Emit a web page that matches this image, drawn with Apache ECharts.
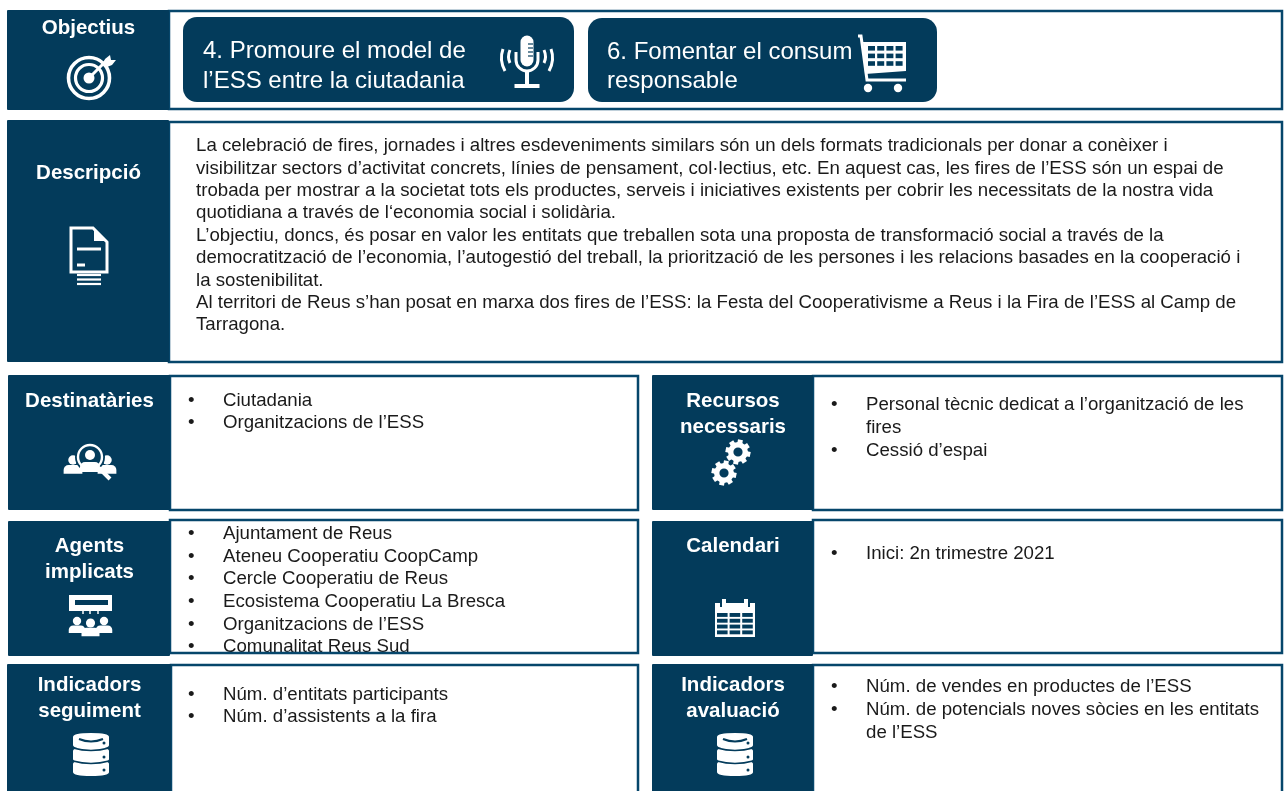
<!DOCTYPE html>
<html>
<head>
<meta charset="utf-8">
<title>Fitxa</title>
<style>
  html, body { margin: 0; padding: 0; background: #fff; }
  #main { width: 1285px; height: 791px; }
</style>
<script src="https://cdn.jsdelivr.net/npm/echarts@6/dist/echarts.min.js"></script>
</head>
<body>
<div id="main"></div>
<script>
// textos de la fitxa
const objectiu4 = ['4. Promoure el model de', 'l’ESS entre la ciutadania'];
const objectiu6 = ['6. Fomentar el consum', 'responsable'];
const descripcio = [
  'La celebració de fires, jornades i altres esdeveniments similars són un dels formats tradicionals per donar a conèixer i',
  'visibilitzar sectors d’activitat concrets, línies de pensament, col·lectius, etc. En aquest cas, les fires de l’ESS són un espai de',
  'trobada per mostrar a la societat tots els productes, serveis i iniciatives existents per cobrir les necessitats de la nostra vida',
  'quotidiana a través de l‘economia social i solidària.',
  'L’objectiu, doncs, és posar en valor les entitats que treballen sota una proposta de transformació social a través de la',
  'democratització de l’economia, l’autogestió del treball, la priorització de les persones i les relacions basades en la cooperació i',
  'la sostenibilitat.',
  'Al territori de Reus s’han posat en marxa dos fires de l’ESS: la Festa del Cooperativisme a Reus i la Fira de l’ESS al Camp de',
  'Tarragona.'
];
const destinataries = ['Ciutadania', 'Organitzacions de l’ESS'];
const recursos = [['Personal tècnic dedicat a l’organització de les', 'fires'], ['Cessió d’espai']];
const agents = ['Ajuntament de Reus', 'Ateneu Cooperatiu CoopCamp', 'Cercle Cooperatiu de Reus', 'Ecosistema Cooperatiu La Bresca', 'Organitzacions de l’ESS', 'Comunalitat Reus Sud'];
const calendari = ['Inici: 2n trimestre 2021'];
const seguiment = ['Núm. d’entitats participants', 'Núm. d’assistents a la fira'];
const avaluacio = [['Núm. de vendes en productes de l’ESS'], ['Núm. de potencials noves sòcies en les entitats', 'de l’ESS']];

const NAVY = '#033b5b';
const FONT = '"Liberation Sans", Arial, sans-serif';
const BODY = 18.66;
const INK = '#1a1a1a';
const els = [];

function txt(x, y, text, size, color, weight, align, z2) {
  els.push({
    type: 'text', z2: z2 || 5,
    style: {
      x: x, y: y, text: text, fill: color || INK,
      font: (weight || 'normal') + ' ' + size + 'px ' + FONT,
      textAlign: align || 'left', textVerticalAlign: 'middle'
    }
  });
}
function rect(x, y, w, h, fill, r, z2) {
  els.push({ type: 'rect', z2: z2 || 2, shape: { x: x, y: y, width: w, height: h, r: r || 0 }, style: { fill: fill } });
}
function frame(x, y, w, h) {
  els.push({ type: 'rect', z2: 6, shape: { x: x, y: y, width: w, height: h }, style: { fill: 'none', stroke: '#06466b', lineWidth: 2.5 } });
}
function circle(cx, cy, r, fill, z2) {
  els.push({ type: 'circle', z2: z2 || 7, shape: { cx: cx, cy: cy, r: r }, style: { fill: fill || '#fff' } });
}
function ring(cx, cy, r, w, z2) {
  els.push({ type: 'circle', z2: z2 || 7, shape: { cx: cx, cy: cy, r: r }, style: { fill: 'none', stroke: '#fff', lineWidth: w } });
}
function line(x1, y1, x2, y2, w, color, z2) {
  els.push({ type: 'line', z2: z2 || 7, shape: { x1: x1, y1: y1, x2: x2, y2: y2 }, style: { stroke: color || '#fff', lineWidth: w } });
}
function path(d, fill, stroke, w, z2) {
  els.push({
    type: 'path', z2: z2 || 7,
    shape: { pathData: d },
    style: { fill: fill || 'none', stroke: stroke || 'none', lineWidth: w || 1 }
  });
}

// capçalera blava + títol
function header(x, y, w, h, titles, titleY) {
  rect(x, y, w, h, NAVY, 1, 6.5);
  titles.forEach((t, i) => txt(x + w / 2 + 0.5, titleY + i * 26, t, 20.5, '#fff', 'bold', 'center', 7));
}
// llista amb vinyetes
function bullets(x, y, items, step) {
  let row = 0;
  items.forEach(item => {
    const lines = Array.isArray(item) ? item : [item];
    txt(x, y + row * step, '•', BODY);
    lines.forEach(l => { txt(x + 35, y + row * step, l, BODY); row++; });
  });
}

// icones
function iconTarget(cx, cy) {
  ring(cx, cy, 20.5, 3.6); ring(cx, cy, 13.5, 3.2); circle(cx, cy, 5.5);
  line(cx, cy, cx + 17, cy - 17, 3);
  path(`M${cx + 14} ${cy - 14}l2 -5l5 -4l1 5l5 0l-4 5l-5 2z`, '#fff');
}
function iconMic(cx, cy) {
  path(`M${cx - 6.5} ${cy - 8}a6.5 6.5 0 0 1 13 0v18a6.5 6.5 0 0 1 -13 0z`, '#fff');
  [-6, -2, 2, 6].forEach(d => line(cx + 1, cy + d, cx + 6, cy + d, 1.2, NAVY, 8));
  path(`M${cx - 11} ${cy + 2}v8a11 11 0 0 0 22 0v-8`, null, '#fff', 3);
  rect(cx - 2, cy + 21, 4, 15, '#fff', 0, 7);
  rect(cx - 12.5, cy + 34, 25, 4, '#fff', 0, 7);
  path(`M${cx - 17} ${cy}q-3 7 0 13M${cx - 24} ${cy - 1}q-4 11 2 22M${cx + 17} ${cy}q3 7 0 13M${cx + 24} ${cy - 1}q4 11 -2 22`, null, '#fff', 3);
}
function iconCart(x, y) {
  path(`M${x} ${y}h3l6 44h39`, null, '#fff', 3);
  path(`M${x + 5} ${y + 6}h43v29l-41 3z`, '#fff');
  for (let i = 0; i < 4; i++) for (let j = 0; j < 3; j++) rect(x + 10 + i * 9.2, y + 10 + j * 7.6, 7, 4.6, NAVY, 0, 8);
  circle(x + 10, y + 52, 4.2); circle(x + 40, y + 52, 4.2);
}
function iconDoc(x, y) {
  path(`M${x} ${y}h22l14 14v30h-36z`, null, '#fff', 3);
  path(`M${x + 23} ${y + 1}v12h12z`, '#fff');
  line(x + 6, y + 21, x + 30, y + 21, 3);
  line(x + 6, y + 37, x + 14, y + 37, 3);
  [47, 51.5, 56].forEach(d => line(x + 6, y + d, x + 30, y + d, 2.2));
}
function person(cx, cy, s, z2) {
  circle(cx, cy, 3.8 * s, '#fff', z2);
  path(`M${cx - 7.5 * s} ${cy + 11 * s}v${-3 * s}a${4 * s} ${4 * s} 0 0 1 ${4 * s} ${-4 * s}h${7 * s}a${4 * s} ${4 * s} 0 0 1 ${4 * s} ${4 * s}v${3 * s}z`, '#fff', null, 1, z2);
}
function iconSearch(cx, cy) {
  person(cx - 17, cy + 2, 1.25); person(cx + 17, cy + 2, 1.25);
  circle(cx, cy - 1, 15, NAVY, 8);
  ring(cx, cy - 1, 12, 2.4, 8);
  circle(cx, cy - 3, 5, '#fff', 8);
  path(`M${cx - 10} ${cy + 14}v-5a5 5 0 0 1 5 -5h10a5 5 0 0 1 5 5v5z`, '#fff', null, 1, 8);
  line(cx + 9, cy + 10, cx + 20, cy + 21, 4, '#fff', 9);
}
function iconMeeting(x, y) {
  rect(x, y, 43, 16, '#fff', 0, 7);
  rect(x + 6, y + 5, 33, 5, NAVY, 0, 8);
  [14, 21, 29].forEach(d => line(x + d, y + 16, x + d, y + 19, 1.5));
  person(x + 8, y + 26, 1.1, 7); person(x + 35, y + 26, 1.1, 7);
  circle(x + 21.5, y + 30, 6, NAVY, 8);
  person(x + 21.5, y + 28, 1.2, 9);
}
function iconGear(cx, cy, r) {
  for (let i = 0; i < 8; i++) {
    const a = i * Math.PI / 4 + 0.2;
    line(cx + Math.cos(a) * (r - 3), cy + Math.sin(a) * (r - 3), cx + Math.cos(a) * (r + 3), cy + Math.sin(a) * (r + 3), 5);
  }
  ring(cx, cy, r - 2.2, 5.4);
}
function iconCalendar(x, y) {
  rect(x, y + 3, 40, 34, '#fff', 0, 7);
  for (let i = 0; i < 3; i++) for (let j = 0; j < 4; j++) {
    rect(x + 2 + i * 12.6, y + 13 + j * 5.8, 10.6, 3.9, NAVY, 0, 8);
  }
  rect(x + 7, y - 1, 4, 8, '#fff', 0, 9);
  rect(x + 29, y - 1, 4, 8, '#fff', 0, 9);
  rect(x + 5, y + 1, 2, 6, NAVY, 0, 9);
  rect(x + 33, y + 1, 2, 6, NAVY, 0, 9);
}
function iconDb(cx, y) {
  [0, 14, 27].forEach(d => {
    path(`M${cx - 18} ${y + d + 4}q0 -4 18 -4t18 4v8q0 4 -18 4t-18 -4z`, '#fff');
    circle(cx + 13, y + d + 10, 1.5, NAVY, 8);
  });
  path(`M${cx - 18} ${y + 15}q18 5 36 0M${cx - 18} ${y + 28}q18 5 36 0`, null, NAVY, 1.6, 8);
  path(`M${cx - 12} ${y + 6}q12 5 24 0`, null, NAVY, 2, 8);
}

// fila objectius
frame(169, 11, 1113, 98);
header(7, 10, 162, 100, ['Objectius'], 28);
iconTarget(89, 78);
rect(183, 17, 391, 85, NAVY, 14);
rect(588, 18, 349, 84, NAVY, 14);
objectiu4.forEach((l, i) => txt(203, 51.5 + i * 29.5, l, 24, '#fff'));
objectiu6.forEach((l, i) => txt(607, 52 + i * 29, l, 24, '#fff'));
iconMic(527, 50);
iconCart(858, 36);

// descripció
frame(169, 122, 1113, 240);
header(7, 120, 162, 242, ['Descripció'], 173);
iconDoc(71, 228);
descripcio.forEach((l, i) => txt(196, 146 + i * 22.4, l, BODY));

// destinatàries / recursos
frame(170, 376, 468, 134);
header(8, 375, 162, 135, ['Destinatàries'], 401);
iconSearch(90, 458);
bullets(188, 401, destinataries, 22);
frame(813, 376, 469, 134);
header(652, 375, 161, 135, ['Recursos', 'necessaris'], 401);
iconGear(738, 452, 9.5); iconGear(724, 473, 9.5);
bullets(831, 404.5, recursos, 23);

// agents / calendari
frame(170, 520, 468, 133);
header(8, 521, 162, 135, ['Agents', 'implicats'], 546);
iconMeeting(69, 595);
bullets(188, 534, agents, 22.6);
frame(813, 520, 469, 133);
header(652, 521, 161, 135, ['Calendari'], 546);
iconCalendar(715, 600);
bullets(831, 553.5, calendari, 22);

// indicadors
frame(171, 665, 467, 140);
header(7, 664, 164, 140, ['Indicadors', 'seguiment'], 685);
iconDb(91, 733);
bullets(188, 694.5, seguiment, 22);
frame(813, 665, 469, 140);
header(652, 664, 161, 140, ['Indicadors', 'avaluació'], 685);
iconDb(735, 733);
bullets(831, 686.5, avaluacio, 23);

els.sort((a, b) => a.z2 - b.z2);

const chart = echarts.init(document.getElementById('main'));
chart.setOption({
  backgroundColor: '#fff',
  animation: false,
  series: [{
    type: 'custom',
    coordinateSystem: 'none',
    silent: true,
    data: [0],
    renderItem: () => ({ type: 'group', children: els })
  }]
});
</script>
</body>
</html>
